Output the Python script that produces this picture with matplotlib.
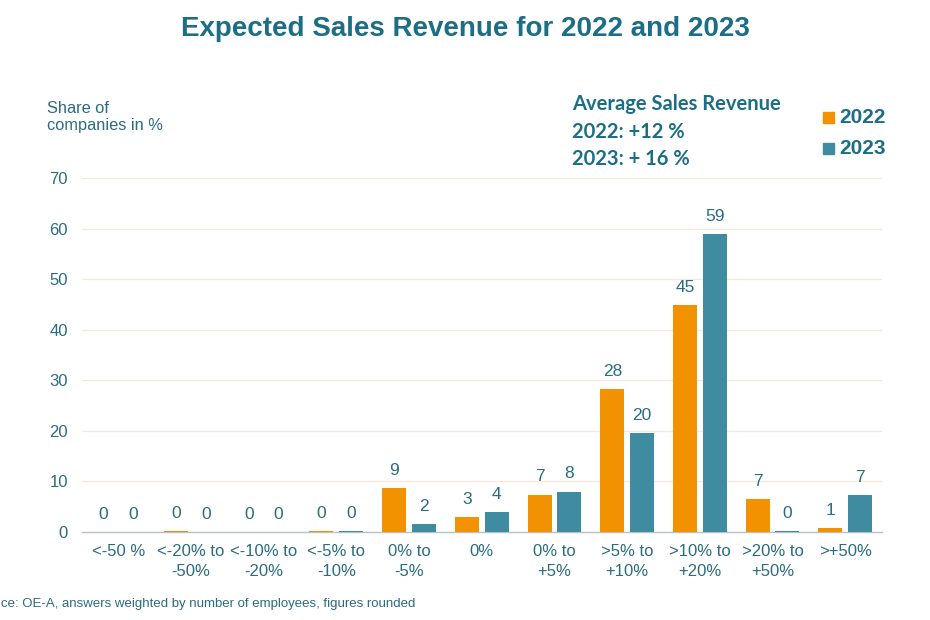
import matplotlib.pyplot as plt
import numpy as np

categories = ['<-50 %', '<-20% to\n-50%', '<-10% to\n-20%', '<-5% to\n-10%', '0% to\n-5%', '0%',
              '0% to\n+5%', '>5% to\n+10%', '>10% to\n+20%', '>20% to\n+50%', '>+50%']
# bar heights; labels are the rounded figures printed above them
vals_2022 = [0.0, 0.2, 0.0, 0.2, 8.6, 3.0, 7.4, 28.2, 44.9, 6.5, 0.8]
vals_2023 = [0.0, 0.0, 0.0, 0.2, 1.6, 3.9, 8.0, 19.6, 58.9, 0.2, 7.3]
labels_2022 = [0, 0, 0, 0, 9, 3, 7, 28, 45, 7, 1]
labels_2023 = [0, 0, 0, 0, 2, 4, 8, 20, 59, 0, 7]
yticks = [0, 10, 20, 30, 40, 50, 60, 70]

orange = '#F39200'
teal = '#3F8BA0'
txt = '#2A6C80'
title_col = '#1B6E86'

plt.rcParams['font.family'] = ['Liberation Sans', 'DejaVu Sans']

fig = plt.figure(figsize=(9.3, 6.2), dpi=100)
ax = fig.add_axes([0.088, 0.142, 0.86, 0.571])

x = np.arange(len(categories))
w = 0.33
off = 0.205
ax.bar(x - off, vals_2022, w, color=orange, zorder=3)
ax.bar(x + off, vals_2023, w, color=teal, zorder=3)

for xi, v, l in zip(x, vals_2022, labels_2022):
    ax.text(xi - off, v + 2.0, str(l), ha='center', va='bottom', fontsize=12.5, color=txt)
for xi, v, l in zip(x, vals_2023, labels_2023):
    ax.text(xi + off, v + 2.0, str(l), ha='center', va='bottom', fontsize=12.5, color=txt)

ax.set_xlim(-0.5, len(categories) - 0.5)
ax.set_ylim(0, 70)
ax.set_yticks(yticks)
ax.set_xticks(x)
ax.set_xticklabels(categories, fontsize=12, color=txt, linespacing=1.4)
ax.tick_params(axis='y', labelsize=12, colors=txt, length=0, pad=10)
ax.tick_params(axis='x', length=0, pad=9)
ax.grid(axis='y', color='#F6E9DA', linewidth=0.9, zorder=0)
for s in ['top', 'right', 'left']:
    ax.spines[s].set_visible(False)
ax.spines['bottom'].set_color('#B8C2C6')
ax.spines['bottom'].set_linewidth(1.0)

fig.text(0.5, 0.953, 'Expected Sales Revenue for 2022 and 2023', ha='center', va='center',
         fontsize=20, fontweight='bold', color=title_col)
fig.text(0.051, 0.811, 'Share of\ncompanies in %', ha='left', va='center', fontsize=11.8,
         color=txt, linespacing=1.15)

fig.text(0.615, 0.832, 'Average Sales Revenue', ha='left', va='center', fontsize=14.5,
         fontweight='bold', color=title_col, family=['Lato', 'DejaVu Sans'])
fig.text(0.615, 0.787, '2022: +12 %', ha='left', va='center', fontsize=14.5,
         fontweight='bold', color=title_col, family=['Lato', 'DejaVu Sans'])
fig.text(0.615, 0.743, '2023: + 16 %', ha='left', va='center', fontsize=14.5,
         fontweight='bold', color=title_col, family=['Lato', 'DejaVu Sans'])

# legend drawn as squares + text to match the slide
for yy, col, lab in [(0.8105, orange, '2022'), (0.7605, teal, '2023')]:
    fig.patches.append(plt.Rectangle((0.885, yy - 0.0089), 0.0118, 0.0178, color=col,
                                     transform=fig.transFigure, figure=fig))
    fig.text(0.902, yy, lab, ha='left', va='center', fontsize=15, fontweight='bold',
             color=title_col)

# the slide crops the start of the source line; only the visible part is shown
fig.text(0.001, 0.026, 'ce: OE-A, answers weighted by number of employees, figures rounded',
         ha='left', va='center', fontsize=9.5, color=txt)

fig.savefig('out.png', dpi=100, facecolor='white')
